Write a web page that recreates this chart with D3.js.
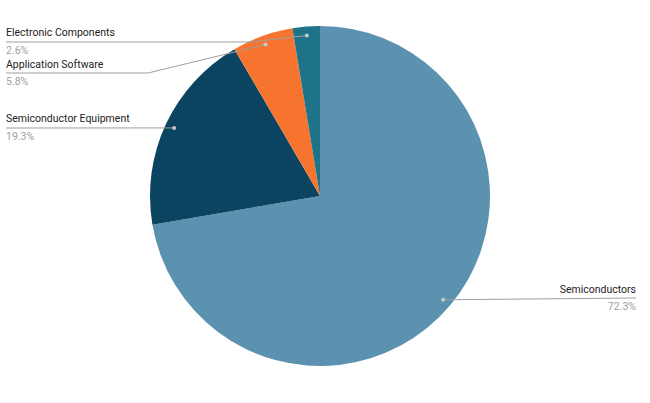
<!DOCTYPE html>
<html><head><meta charset="utf-8">
<script src="https://cdn.jsdelivr.net/npm/d3@7"></script>
<style>body{margin:0;background:#fff}svg{display:block}</style>
</head><body>
<svg id="c" width="650" height="403"></svg>
<script>
const categories = ["Semiconductors","Semiconductor Equipment","Application Software","Electronic Components"];
const values = [72.3, 19.3, 5.8, 2.6];
const colors = ["#5b92b0","#0b4461","#f7742f","#1e7388"];

const svg = d3.select("#c");
const cx = 320, cy = 196, R = 170, rDot = 161;
const data = categories.map((c,i)=>({name:c, value:values[i], color:colors[i]}));
const pie = d3.pie().value(d=>d.value).sort(null);
const arcs = pie(data);
const arc = d3.arc().innerRadius(0).outerRadius(R);
const g = svg.append("g").attr("transform",`translate(${cx},${cy})`);
g.selectAll("path").data(arcs).join("path").attr("d",arc).attr("fill",d=>d.data.color);

// label layout (positions)
const layout = {
  "Electronic Components": {side:"left", ty:36, ly:42, knee:250},
  "Application Software": {side:"left", ty:68, ly:73, knee:148},
  "Semiconductor Equipment": {side:"left", ty:122, ly:128, knee:null},
  "Semiconductors": {side:"right", ty:293, ly:298, knee:null}
};
const lab = svg.append("g");
arcs.forEach(a=>{
  const m = (a.startAngle+a.endAngle)/2;
  const dx = cx + rDot*Math.sin(m), dy = cy - rDot*Math.cos(m);
  const L = layout[a.data.name];
  let pts;
  if (L.side==="left") {
    pts = [[6,L.ly]];
    if (L.knee!==null) pts.push([L.knee,L.ly]);
    pts.push([dx,dy]);
  } else {
    pts = [[dx,dy],[636,L.ly]];
  }
  lab.append("path").attr("d",d3.line()(pts)).attr("fill","none").attr("stroke","#9e9e9e").attr("stroke-width",1);
  lab.append("circle").attr("cx",dx).attr("cy",dy).attr("r",2).attr("fill","#c8c8c8");
  const x = L.side==="left"?6:636, anchor = L.side==="left"?"start":"end";
  lab.append("text").attr("x",x).attr("y",L.ty).attr("text-anchor",anchor)
    .attr("font-family","Roboto, Arial, sans-serif").attr("font-size",10.5).attr("fill","#222").text(a.data.name);
  lab.append("text").attr("x",x).attr("y",L.ly+12).attr("text-anchor",anchor)
    .attr("font-family","Roboto, Arial, sans-serif").attr("font-size",10.5).attr("fill","#a0a0a0").text(a.data.value.toFixed(1)+"%");
});
</script>
</body></html>
